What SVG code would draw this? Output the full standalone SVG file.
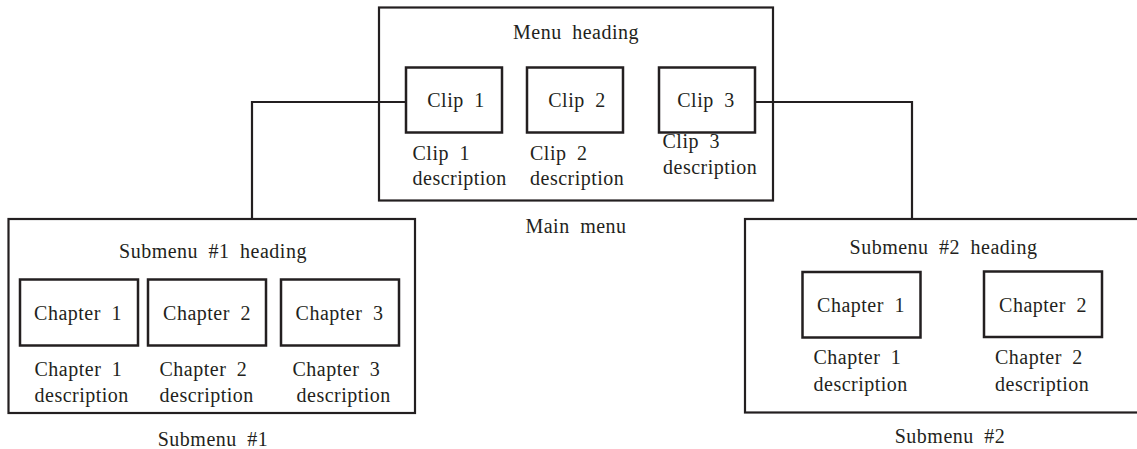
<svg xmlns="http://www.w3.org/2000/svg" width="1137" height="449" viewBox="0 0 1137 449">
<style>
  .box{fill:none;stroke:#231f20;stroke-width:2.2}
  .ibox{fill:#fff;stroke:#231f20;stroke-width:2.5}
  .conn{fill:none;stroke:#231f20;stroke-width:2.2}
  text{font-family:'Liberation Serif','DejaVu Serif',serif;font-size:20px;fill:#231f20;letter-spacing:0.5px;word-spacing:5px}
  .c{text-anchor:middle}
</style>
<rect width="1137" height="449" fill="#fff"/>
<g id="connectors">
  <polyline class="conn" points="406,102 252,102 252,219"/>
  <polyline class="conn" points="755,102 912,102 912,219"/>
</g>
<g font-family="Liberation Serif, DejaVu Serif, serif">
<g id="main-menu">
  <rect class="box" x="379" y="7.5" width="394" height="193"/>
  <text class="c" x="576" y="39">Menu heading</text>
  <text class="c" x="576" y="233">Main menu</text>
</g>
<g id="clip1">
  <rect class="ibox" x="406" y="67.5" width="96" height="65"/>
  <text class="c" x="456" y="107">Clip 1</text>
  <text x="412.5" y="160">Clip 1</text>
  <text x="412.5" y="185">description</text>
</g>
<g id="clip2">
  <rect class="ibox" x="527" y="67.5" width="96" height="65"/>
  <text class="c" x="577" y="107">Clip 2</text>
  <text x="530" y="160">Clip 2</text>
  <text x="530" y="185">description</text>
</g>
<g id="clip3">
  <rect class="ibox" x="659" y="67.5" width="96" height="65"/>
  <text class="c" x="706" y="107">Clip 3</text>
  <text x="662.5" y="147.5">Clip 3</text>
  <text x="663" y="173.5">description</text>
</g>
<g id="submenu1">
  <rect class="box" x="8.5" y="219" width="406.5" height="194"/>
  <text class="c" x="213" y="258">Submenu #1 heading</text>
  <text class="c" x="213" y="446">Submenu #1</text>
</g>
<g id="sub1-chapter1">
  <rect class="ibox" x="20" y="279.5" width="118" height="66"/>
  <text class="c" x="78" y="320">Chapter 1</text>
  <text x="34.5" y="376">Chapter 1</text>
  <text x="34.5" y="401.5">description</text>
</g>
<g id="sub1-chapter2">
  <rect class="ibox" x="148" y="279.5" width="118" height="66"/>
  <text class="c" x="207" y="320">Chapter 2</text>
  <text x="159.5" y="376">Chapter 2</text>
  <text x="159.5" y="401.5">description</text>
</g>
<g id="sub1-chapter3">
  <rect class="ibox" x="281" y="279.5" width="118" height="66"/>
  <text class="c" x="339.5" y="320">Chapter 3</text>
  <text x="292.5" y="376">Chapter 3</text>
  <text x="296.5" y="401.5">description</text>
</g>
<g id="submenu2">
  <rect class="box" x="745" y="219" width="400" height="193.5"/>
  <text class="c" x="943.5" y="254">Submenu #2 heading</text>
  <text class="c" x="950" y="442.5">Submenu #2</text>
</g>
<g id="sub2-chapter1">
  <rect class="ibox" x="802.5" y="272" width="118" height="65.5"/>
  <text class="c" x="861" y="312">Chapter 1</text>
  <text x="813.5" y="364">Chapter 1</text>
  <text x="813.5" y="390.5">description</text>
</g>
<g id="sub2-chapter2">
  <rect class="ibox" x="984" y="271.5" width="118" height="65.5"/>
  <text class="c" x="1043" y="312">Chapter 2</text>
  <text x="995" y="364">Chapter 2</text>
  <text x="995" y="390.5">description</text>
</g>
</g>
</svg>
